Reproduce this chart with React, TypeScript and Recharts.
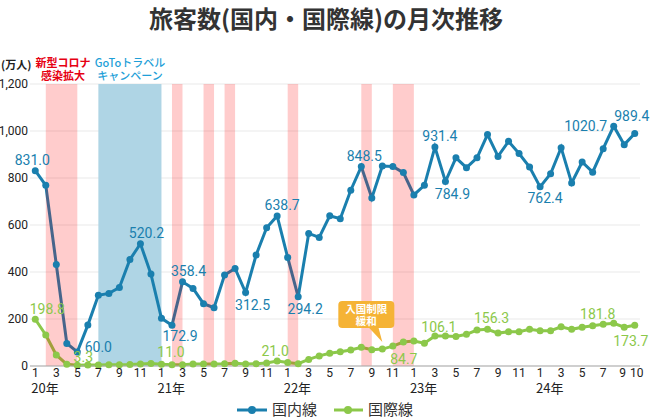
import React from 'react';
import { LineChart, Line, XAxis, YAxis, CartesianGrid, ReferenceArea, ReferenceDot } from 'recharts';

// ---- categories ----
const years = [20, 21, 22, 23, 24];
const monthsInYear = [12, 12, 12, 12, 10];
const periods: { year: number; month: number }[] = [];
years.forEach((y, yi) => {
  for (let m = 1; m <= monthsInYear[yi]; m++) periods.push({ year: y, month: m });
});

// ---- series values (万人) ----
const domestic = [
  831.0, 769, 432, 96, 60.0, 174, 301, 309, 334, 453, 520.2, 391,
  203, 172.9, 358.4, 330, 265, 248, 387, 415, 312.5, 472, 588, 638.7,
  462, 294.2, 564, 547, 639, 627, 748, 848.5, 715, 851, 849, 823,
  728, 769, 931.4, 784.9, 886, 844, 886, 985, 892, 956, 904, 847,
  762.4, 818, 929, 779, 868, 825, 925, 1020.7, 942, 989.4,
];
const international = [
  198.8, 132, 47, 7, 3.3, 4, 4, 5, 5, 6, 9, 11.0,
  7, 5, 5, 8, 8, 9, 10, 12, 9, 10, 13, 21.0,
  15, 10, 28, 43, 54, 61, 68, 80, 69, 72, 84.7, 102,
  106.1, 97, 128, 128, 126, 135, 153, 156.3, 140, 146, 146, 156,
  150, 150, 167, 156, 165, 171, 178, 181.8, 165, 173.7,
];

// ---- ticks ----
const yTicks = [0, 200, 400, 600, 800, 1000, 1200];
const xTicks = [0, 2, 4, 6, 8, 10, 12, 14, 16, 18, 20, 22, 24, 26, 28, 30, 32, 34, 36, 38, 40, 42, 44, 46, 48, 50, 52, 54, 56, 57];

// ---- shaded periods (index ranges) ----
const coronaSpans = [[1, 4], [13, 14], [16, 17], [18, 19], [24, 25], [31, 32], [34, 36]];
const gotoSpan = [6, 12];
const easingIndex = 33;

// ---- labelled points (index -> label offset) ----
const domesticLabelAt: Record<number, [number, number]> = {
  0: [-3, -11], 4: [21, -5], 10: [6, -11], 13: [8, 11], 14: [6, -11], 20: [7, 12],
  23: [5, -11], 25: [7, 12], 31: [3, -11], 38: [5, -11], 39: [7, 12], 48: [5, 11],
  55: [-28, 0], 57: [-3, -17],
};
const internationalLabelAt: Record<number, [number, number]> = {
  0: [12, -10], 4: [6, -8], 11: [20, -11], 23: [-2, -10], 34: [11, 13], 36: [25, -14],
  43: [4, -11], 55: [-16, -9], 57: [-4, 16],
};
const tickNudge: Record<number, number> = { 56: -1.5, 57: 2 };

const BLUE = '#1a7fae';
const GREEN = '#8cc84a';
const NUM_FONT = 'Roboto, "Noto Sans CJK JP", sans-serif';
const JP_FONT = '"Noto Sans CJK JP", "Noto Sans", sans-serif';

const data = periods.map((p, i) => ({
  i,
  year: p.year,
  month: p.month,
  domestic: domestic[i],
  international: international[i],
}));

const makeLabel = (table: Record<number, [number, number]>, color: string) => (props: any) => {
  const { x, y, index, value } = props;
  const off = table[index];
  if (!off || x == null || y == null) return <g key={`l-${index}`} />;
  return (
    <text
      key={`l-${index}`}
      x={x + off[0]}
      y={y + off[1]}
      textAnchor="middle"
      dominantBaseline="central"
      fill={color}
      fontSize={14}
      fontFamily={NUM_FONT}
    >
      {Number(value).toFixed(1)}
    </text>
  );
};

const XTick = (props: any) => {
  const { x, y, payload } = props;
  const p = periods[payload.value];
  if (!p) return <g />;
  const nx = x + (tickNudge[payload.value] || 0);
  return (
    <g>
      <text x={nx} y={y + 11} textAnchor="middle" fontSize={12} fill="#222" fontFamily={NUM_FONT}>
        {p.month}
      </text>
      {p.month === 1 && (
        <text x={x - 4} y={y + 27} textAnchor="start" fontSize={13} fill="#222" fontFamily={JP_FONT}>
          {`${p.year}年`}
        </text>
      )}
    </g>
  );
};

const Callout = (props: any) => {
  const { cx, cy } = props;
  if (cx == null || cy == null) return <g />;
  const left = cx - 44;
  const top = cy - 48;
  return (
    <g>
      <rect x={left} y={top} width={56} height={27} rx={4} fill="#f5b335" />
      <path d={`M ${cx - 14} ${cy - 22} L ${cx - 4} ${cy - 22} L ${cx} ${cy - 7} Z`} fill="#f5b335" />
      <text x={left + 28} y={top + 11.5} textAnchor="middle" fontSize={10.5} fontWeight={700} fill="#fff" fontFamily={JP_FONT}>
        入国制限
      </text>
      <text x={left + 28} y={top + 24} textAnchor="middle" fontSize={10.5} fontWeight={700} fill="#fff" fontFamily={JP_FONT}>
        緩和
      </text>
    </g>
  );
};

export default function App() {
  return (
    <div style={{ position: 'absolute', left: 0, top: 0, width: 650, height: 420, background: '#fff' }}>
      <LineChart
        width={650}
        height={420}
        data={data}
        margin={{ top: 84, right: 10, bottom: 0, left: 0 }}
      >
        <CartesianGrid vertical={false} stroke="#e9e9e9" />
        <ReferenceArea x1={gotoSpan[0]} x2={gotoSpan[1]} fill="#afd5e5" fillOpacity={1} stroke="none" />
        <XAxis
          dataKey="i"
          type="number"
          domain={[-0.5, 57.5]}
          ticks={xTicks}
          interval={0}
          height={54}
          tickLine={false}
          tickSize={0}
          tickMargin={0}
          axisLine={{ stroke: '#aaa' }}
          tick={<XTick />}
        />
        <YAxis
          width={30}
          domain={[0, 1200]}
          ticks={yTicks}
          interval={0}
          tickLine={false}
          axisLine={false}
          tickSize={0}
          tickMargin={2}
          tickFormatter={(v: number) => v.toLocaleString('en-US')}
          tick={{ fontSize: 12, fill: '#222', fontFamily: NUM_FONT }}
        />
        <Line
          type="linear"
          dataKey="domestic"
          stroke={BLUE}
          strokeWidth={3}
          dot={{ r: 3.5, fill: BLUE, stroke: BLUE, strokeWidth: 0 }}
          activeDot={false}
          isAnimationActive={false}
          label={makeLabel(domesticLabelAt, BLUE)}
        />
        <Line
          type="linear"
          dataKey="international"
          stroke={GREEN}
          strokeWidth={3}
          dot={{ r: 3.5, fill: GREEN, stroke: GREEN, strokeWidth: 0 }}
          activeDot={false}
          isAnimationActive={false}
          label={makeLabel(internationalLabelAt, GREEN)}
        />
        {coronaSpans.map(([a, b]) => (
          <ReferenceArea
            key={`c-${a}`}
            x1={a}
            x2={b}
            fill="#ff0000"
            fillOpacity={0.2}
            stroke="none"
            {...({ zIndex: 450 } as any)}
          />
        ))}
        <ReferenceDot
          x={easingIndex}
          y={international[easingIndex]}
          r={0}
          shape={<Callout />}
          {...({ zIndex: 1500 } as any)}
        />
      </LineChart>
      <svg
        width={650}
        height={420}
        style={{ position: 'absolute', left: 0, top: 0, pointerEvents: 'none' }}
      >
        <text x={326} y={28} textAnchor="middle" fontSize={24} fontWeight={700} fill="#333" fontFamily={JP_FONT}>
          旅客数(国内・国際線)の月次推移
        </text>
        <text x={1} y={69} fontSize={11} fontWeight={700} fill="#222" fontFamily={JP_FONT}>
          (万人)
        </text>
        <text x={63} y={67} textAnchor="middle" fontSize={11} fontWeight={700} fill="#e60012" fontFamily={JP_FONT}>
          新型コロナ
        </text>
        <text x={63} y={80} textAnchor="middle" fontSize={11} fontWeight={700} fill="#e60012" fontFamily={JP_FONT}>
          感染拡大
        </text>
        <text x={130} y={67} textAnchor="middle" fontSize={11} fontWeight={500} fill="#1f9fd8" fontFamily={JP_FONT}>
          GoToトラベル
        </text>
        <text x={130} y={80} textAnchor="middle" fontSize={11} fontWeight={500} fill="#1f9fd8" fontFamily={JP_FONT}>
          キャンペーン
        </text>
        <g>
          <line x1={237} y1={410} x2={267} y2={410} stroke={BLUE} strokeWidth={3} />
          <circle cx={252} cy={410} r={4} fill={BLUE} />
          <text x={272} y={415} fontSize={15} fill="#333" fontFamily={JP_FONT}>国内線</text>
          <line x1={334} y1={410} x2={363} y2={410} stroke={GREEN} strokeWidth={3} />
          <circle cx={348} cy={410} r={4} fill={GREEN} />
          <text x={368} y={415} fontSize={15} fill="#333" fontFamily={JP_FONT}>国際線</text>
        </g>
      </svg>
    </div>
  );
}
